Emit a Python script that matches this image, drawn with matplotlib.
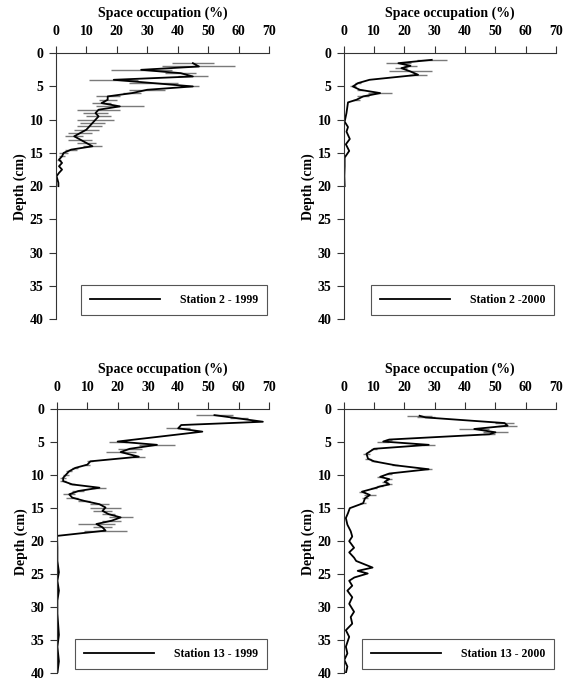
import matplotlib.pyplot as plt

plt.rcParams['font.family'] = ['Liberation Serif', 'DejaVu Serif']
plt.rcParams['font.weight'] = 'bold'

# --- Station 2 - 1999 ---
depth_s2_99 = [1.5, 2, 2.5, 3, 3.5, 4, 4.5, 5, 5.5, 6, 6.5, 7, 7.5, 8, 8.5, 9, 9.5, 10,
               10.5, 11, 11.5, 12, 12.5, 13, 13.5, 14, 14.5, 15, 15.5, 16, 16.5, 17,
               17.5, 18, 18.5, 19, 19.5, 20]
occ_s2_99 = [45, 47, 28, 41, 45, 19, 32, 45, 30, 25, 17, 17, 15, 21, 14, 13, 14, 13,
             12, 11, 10, 8, 6, 8, 10, 12, 5, 2.5, 2, 1, 2, 1, 2, 1, 0.2, 0.5, 0.8, 0.8]
err_s2_99 = [7, 12, 10, 5, 5, 8, 8, 2, 6, 3, 4, 3, 3, 8, 7, 4, 4, 6,
             4, 4, 4, 4, 3, 4, 3, 3, 2, 1.5, 1, 0.5, 0, 0, 0, 0, 0, 0, 0, 0]

# --- Station 2 - 2000 ---
depth_s2_00 = [1, 1.5, 1.9, 2.25, 2.75, 3.25, 4, 4.5, 5, 5.5, 6, 6.5, 7, 7.4, 9,
               10.3, 11.1, 11.8, 12.9, 13.7, 14.7, 15.7, 17, 18.5, 20]
occ_s2_00 = [29, 18, 22, 19, 22, 24.5, 8.5, 4.7, 3, 5.3, 12, 6.4, 4.2, 1.4, 0.9,
             0.3, 1.4, 0.9, 2, 0.7, 1.8, 0.3, 0.3, 0.2, 0.3]
err_s2_00 = [5, 4, 2, 2, 7, 3, 0, 1, 1, 1, 4, 2, 1, 0, 0,
             0, 0, 0, 0, 0, 0, 0, 0, 0, 0]

# --- Station 13 - 1999 ---
depth_s13_99 = [0.9, 1.4, 1.9, 2.4, 2.9, 3.4, 4.9, 5.4, 6.0, 6.5, 7.2, 7.9, 8.4, 8.9,
                9.4, 9.9, 10.4, 10.9, 11.4, 11.9, 12.4, 12.9, 13.4, 13.9, 14.4, 14.9,
                15.4, 15.9, 16.4, 16.9, 17.4, 17.9, 18.4, 19.2, 21, 23, 24.7, 26,
                27.5, 29, 31, 34.2, 36, 38.2, 40]
occ_s13_99 = [52, 60, 68, 41, 40, 48, 20, 33, 24, 21, 27, 11, 10, 6,
              4, 3, 2, 2, 5, 14, 7, 4, 5, 9, 14, 16,
              15, 17, 21, 18, 13, 15, 16, 0, 0.1, 0.1, 0.6, 0.1,
              0.6, 0.1, 0.1, 0.6, 0.1, 0.6, 0.1]
err_s13_99 = [6, 3, 0, 0, 4, 0, 3, 6, 4, 5, 2, 1, 1, 1,
              1, 1, 1, 1, 1, 2, 2, 2, 2, 2, 3, 5,
              3, 2, 4, 3, 6, 3, 7, 0, 0, 0, 0, 0,
              0, 0, 0, 0, 0, 0, 0]

# --- Station 13 - 2000 ---
depth_s13_00 = [1.0, 1.25, 2.1, 2.5, 3.0, 3.5, 3.8, 4.6, 4.9, 5.4, 6.0, 6.75, 7.5, 7.9,
                8.5, 9.1, 9.75, 10.25, 10.6, 11.0, 11.4, 11.7, 12.0, 12.5, 13.0, 13.5,
                14.25, 15.0, 15.75, 16.5, 17.5, 18.5, 19.3, 20.0, 21.0, 21.7, 22.5,
                23.0, 24.0, 24.5, 24.9, 25.5, 26.0, 26.75, 27.5, 28.5, 29.5, 30.7,
                31.5, 32.5, 33.5, 34.5, 36.0, 37.0, 38.0, 39.0, 40.0]
occ_s13_00 = [25, 27, 53, 54, 43, 50, 48, 15, 13, 28, 10, 7.5, 8, 10,
              17, 28, 15, 12, 15, 13.5, 15, 12, 10, 6, 8.6, 7,
              6.4, 2, 1.4, 0.7, 1.2, 2.3, 2.8, 1.8, 3.4, 1.8, 3.4,
              4.1, 9.5, 4.6, 7.9, 3.5, 1.8, 2.8, 1.2, 2.8, 1.8, 3.4,
              2.3, 2.8, 0.7, 1.8, 0.7, 1.2, 0.2, 1.2, 0.7]
err_s13_00 = [4, 3, 3, 3, 5, 4, 2, 1, 2, 2, 1, 1, 1, 1,
              1, 1, 1, 1, 1, 1, 1, 1, 1, 1, 2, 1,
              1, 0, 0, 0, 0, 0, 0, 0, 0, 0, 0,
              0, 0, 0, 0, 0, 0, 0, 0, 0, 0, 0,
              0, 0, 0, 0, 0, 0, 0, 0, 0]

panels = [
    (depth_s2_99, occ_s2_99, err_s2_99, 'Station 2 - 1999'),
    (depth_s2_00, occ_s2_00, err_s2_00, 'Station 2 -2000'),
    (depth_s13_99, occ_s13_99, err_s13_99, 'Station 13 - 1999'),
    (depth_s13_00, occ_s13_00, err_s13_00, 'Station 13 - 2000'),
]

# axes rectangles in figure fraction [left, bottom, width, height]
rects = [
    [0.098, 0.532, 0.373, 0.390],
    [0.602, 0.532, 0.372, 0.390],
    [0.100, 0.013, 0.371, 0.387],
    [0.602, 0.013, 0.372, 0.387],
]

fig = plt.figure(figsize=(5.71, 6.82), dpi=100)

for (depth, occ, err, label), rect in zip(panels, rects):
    ax = fig.add_axes(rect)
    ax.errorbar(occ, depth, xerr=err, fmt='none', ecolor='#7a7a7a',
                elinewidth=1.0, capsize=0, zorder=1)
    ax.plot(occ, depth, color='black', lw=1.3, label=label, zorder=2)

    ax.set_xlim(0, 70)
    ax.set_ylim(40, 0)
    ax.set_xticks(range(0, 71, 10))
    ax.set_yticks(range(0, 41, 5))
    ax.xaxis.tick_top()
    ax.xaxis.set_label_position('top')
    ax.set_xlabel('Space occupation (%)', fontsize=10, fontweight='bold', labelpad=6)
    ax.set_ylabel('Depth (cm)', fontsize=10, fontweight='bold', labelpad=2)
    ax.tick_params(axis='both', direction='out', length=5, width=0.8,
                   labelsize=10, colors='#333333', labelcolor='black')
    ax.tick_params(axis='x', pad=6)
    ax.tick_params(axis='y', pad=4)
    for lab in ax.get_xticklabels() + ax.get_yticklabels():
        lab.set_fontweight('bold')

    ax.spines['right'].set_visible(False)
    ax.spines['bottom'].set_visible(False)
    ax.spines['top'].set_color('#333333')
    ax.spines['left'].set_color('#333333')
    ax.spines['top'].set_linewidth(0.8)
    ax.spines['left'].set_linewidth(0.8)

    leg = ax.legend(loc='lower right', bbox_to_anchor=(0.99, 0.015),
                    borderaxespad=0,
                    prop={'weight': 'bold', 'size': 8.5}, frameon=True,
                    fancybox=False, framealpha=1, edgecolor='#555555',
                    handlelength=5.9, handletextpad=1.7, borderpad=0.75)
    leg.get_frame().set_linewidth(0.8)

plt.savefig('out.png', dpi=100)
